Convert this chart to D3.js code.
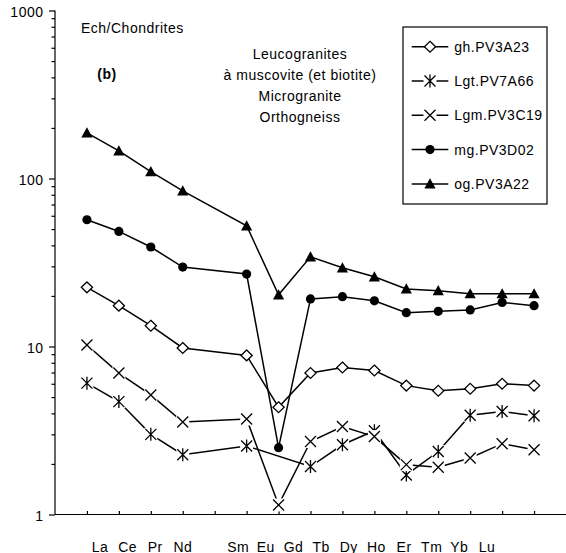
<!DOCTYPE html>
<html>
<head>
<meta charset="utf-8">
<script src="https://cdnjs.cloudflare.com/ajax/libs/d3/7.8.5/d3.min.js"></script>
<style>
  body { margin: 0; background: #fff; }
  svg text { font-family: "Liberation Sans", Arial, sans-serif; font-size: 14px; letter-spacing: 0.5px; fill: #000; }
</style>
</head>
<body>
<div id="chart"></div>
<script>
var categories = ["La","Ce","Pr","Nd","Pm","Sm","Eu","Gd","Tb","Dy","Ho","Er","Tm","Yb","Lu"];
var ghPV3A23  = [22.5, 17.5, 13.3, 9.8, null, 8.85, 4.35, 6.95, 7.5, 7.2, 5.85, 5.45, 5.6, 6.0, 5.85];
var lgtPV7A66 = [6.05, 4.7, 3.0, 2.27, null, 2.56, null, 1.93, 2.6, 3.15, 1.72, 2.37, 3.9, 4.1, 3.87];
var lgmPV3C19 = [10.2, 6.95, 5.15, 3.55, null, 3.7, 1.14, 2.72, 3.34, 2.91, 1.98, 1.91, 2.17, 2.64, 2.43];
var mgPV3D02  = [56.8, 48.4, 39.1, 29.7, null, 27.0, 2.5, 19.2, 19.8, 18.7, 15.9, 16.2, 16.5, 18.3, 17.5];
var ogPV3A22  = [187, 146, 110, 84.5, null, 52.3, 20.3, 34.2, 29.4, 26.0, 22.0, 21.5, 20.6, 20.6, 20.6];
var yTicks = [1, 10, 100, 1000];

var series = [
  {name: "gh.PV3A23",  values: ghPV3A23,  marker: "diamond"},
  {name: "Lgt.PV7A66", values: lgtPV7A66, marker: "star"},
  {name: "Lgm.PV3C19", values: lgmPV3C19, marker: "cross"},
  {name: "mg.PV3D02",  values: mgPV3D02,  marker: "circle"},
  {name: "og.PV3A22",  values: ogPV3A22,  marker: "triangle"}
];

var W = 566, H = 553;
var pLeft = 55, pRight = 566, pTop = 10.5, pBottom = 514.5;

var svg = d3.select("#chart").append("svg")
  .attr("width", W).attr("height", H);

var x = d3.scalePoint().domain(categories).range([pLeft, pRight]).padding(1);
var xl = d3.scalePoint().domain(categories).range([100, 487]);
var y = d3.scaleLog().domain([1, 1000]).range([pBottom, pTop]);

// minor ticks on the log axis
var minor = [];
yTicks.slice(0, -1).forEach(function(t){
  for (var k = 2; k < 10; k++) minor.push(t * k);
});

svg.append("g")
  .attr("transform", "translate(" + pLeft + ",0)")
  .call(d3.axisLeft(y).tickValues(minor).tickSize(3.5).tickFormat(""))
  .call(function(g){ g.select(".domain").remove(); });

var yAxis = svg.append("g")
  .attr("transform", "translate(" + pLeft + ",0)")
  .call(d3.axisLeft(y).tickValues(yTicks).tickSize(6).tickPadding(5.5).tickFormat(d3.format("d")));
yAxis.select(".domain").attr("d", "M0," + pTop + "V" + pBottom);
yAxis.selectAll("text").attr("dy", "0.45em").style("font-size", "14px");

var xAxis = svg.append("g")
  .attr("transform", "translate(0," + pBottom + ")")
  .call(d3.axisBottom(x).tickSize(-3.5).tickFormat(""));
xAxis.select(".domain").attr("d", "M" + pLeft + ",0H" + pRight);
svg.selectAll(".tick line, .domain").attr("stroke", "#000").attr("stroke-width", 1.2);

// element labels (sit a little off the ticks, as in the original)
svg.append("g").selectAll("text")
  .data(categories.filter(function(d){ return d !== "Pm"; }))
  .enter().append("text")
  .attr("x", function(d){ return xl(d); })
  .attr("y", 551.5)
  .attr("text-anchor", "middle")
  .text(function(d){ return d; });

function drawMarker(g, type){
  if (type === "diamond") {
    g.append("path").attr("d", "M0,-5.4L5.6,0L0,5.4L-5.6,0Z")
      .attr("fill", "#fff").attr("stroke", "#000").attr("stroke-width", 1.3);
  } else if (type === "circle") {
    g.append("circle").attr("r", 4.6).attr("fill", "#000");
  } else if (type === "triangle") {
    g.append("path").attr("d", "M0,-5.6L5.6,4.6L-5.6,4.6Z").attr("fill", "#000");
  } else {
    g.append("rect").attr("x", -6.5).attr("y", -6.5).attr("width", 13).attr("height", 13).attr("fill", "#fff");
    var d = "M-5.5,-5.5L5.5,5.5M5.5,-5.5L-5.5,5.5";
    if (type === "star") d += "M0,-6.5V6.5";
    g.append("path").attr("d", d).attr("stroke", "#000").attr("stroke-width", 1.3).attr("fill", "none");
  }
}

var line = d3.line()
  .x(function(d){ return x(d.cat); })
  .y(function(d){ return y(d.v); });

series.forEach(function(s){
  var pts = categories.map(function(c, i){ return {cat: c, v: s.values[i]}; })
    .filter(function(d){ return d.v != null; });
  var g = svg.append("g");
  g.append("path").datum(pts)
    .attr("d", line)
    .attr("fill", "none")
    .attr("stroke", "#000")
    .attr("stroke-width", 1.5);
  g.selectAll(".pt").data(pts).enter().append("g")
    .attr("class", "pt")
    .attr("transform", function(d){ return "translate(" + x(d.cat) + "," + y(d.v) + ")"; })
    .each(function(){ drawMarker(d3.select(this), s.marker); });
});

// annotations
svg.append("text").attr("x", 81).attr("y", 32.5).text("Ech/Chondrites");
svg.append("text").attr("x", 107).attr("y", 78.5).attr("text-anchor", "middle")
  .style("font-weight", "bold").text("(b)");
["Leucogranites", "à muscovite (et biotite)", "Microgranite", "Orthogneiss"].forEach(function(t, i){
  svg.append("text").attr("x", 300).attr("y", 59 + i * 21)
    .attr("text-anchor", "middle").text(t);
});

// legend
var legend = svg.append("g").attr("transform", "translate(403,27)");
legend.append("rect").attr("width", 144).attr("height", 177)
  .attr("fill", "#fff").attr("stroke", "#000").attr("stroke-width", 1.2);
series.forEach(function(s, i){
  var row = legend.append("g").attr("transform", "translate(0," + (19.7 + i * 34.3) + ")");
  row.append("path").attr("d", "M8.7,0H45.3").attr("stroke", "#000").attr("stroke-width", 1.5);
  var m = row.append("g").attr("transform", "translate(27,0)");
  drawMarker(m, s.marker);
  row.append("text").attr("x", 51.3).attr("dy", "0.36em").text(s.name);
});
</script>
</body>
</html>
